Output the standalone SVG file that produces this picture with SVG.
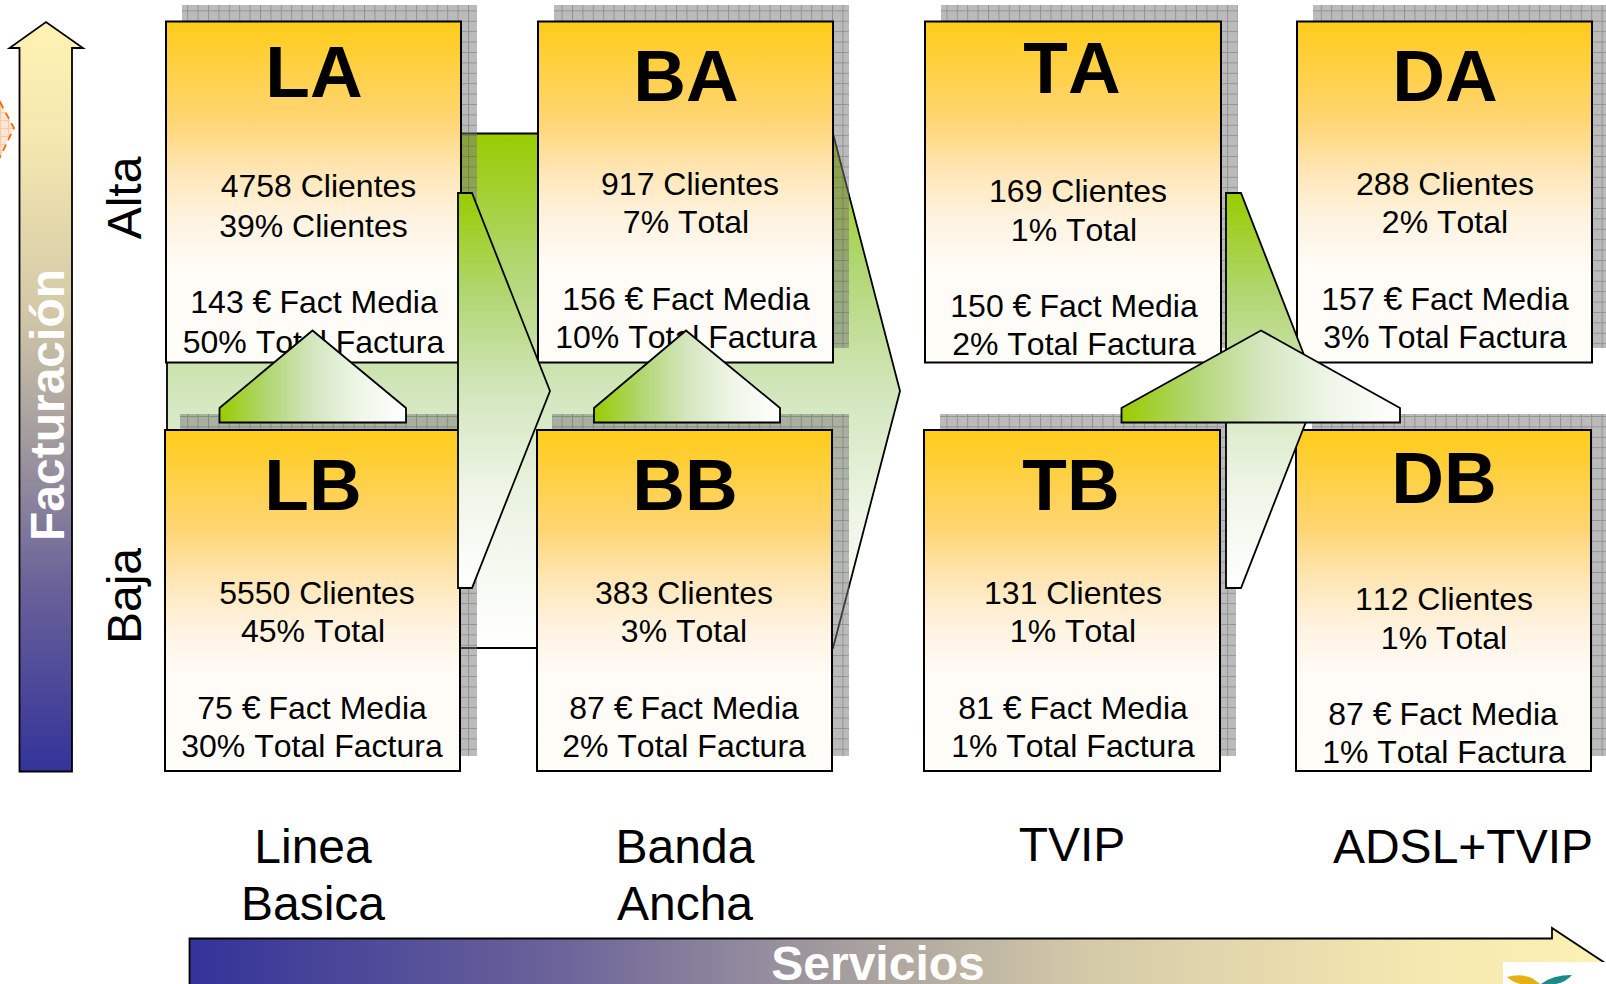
<svg xmlns="http://www.w3.org/2000/svg" width="1606" height="984" viewBox="0 0 1606 984">
<style>
text{font-family:"Liberation Sans",Arial,sans-serif;fill:#000;font-kerning:none}
.t{font-size:32px;text-anchor:middle}
.e{font-size:34px}
.h{font-size:73px;font-weight:bold;text-anchor:middle}
.l{font-size:48px;text-anchor:middle}
.w{font-size:48px;font-weight:bold;text-anchor:middle;fill:#fff}
.box{fill:url(#gBox);stroke:#000;stroke-width:2}
.sh{fill:url(#pSh)}
.av{stroke:#000;stroke-width:1.8;stroke-linejoin:miter;fill:url(#gV)}
.ah{stroke:#000;stroke-width:1.8;fill:url(#gH)}
</style>
<defs>
<linearGradient id="gBox" x1="0" y1="0" x2="0" y2="1"><stop offset="0" stop-color="#ffcc19"/><stop offset="0.29" stop-color="#ffd574"/><stop offset="0.44" stop-color="#ffe6b6"/><stop offset="0.58" stop-color="#fff3e0"/><stop offset="0.72" stop-color="#fffbf6"/><stop offset="1" stop-color="#fffdf8"/></linearGradient>
<linearGradient id="gV" x1="0" y1="0" x2="0" y2="1"><stop offset="0" stop-color="#99cc00"/><stop offset="0.25" stop-color="#b0d670"/><stop offset="0.5" stop-color="#d2e6bc"/><stop offset="0.75" stop-color="#eef5e6"/><stop offset="1" stop-color="#fff"/></linearGradient>
<linearGradient id="gH" x1="0" y1="0" x2="1" y2="0"><stop offset="0" stop-color="#99cc00"/><stop offset="0.25" stop-color="#b0d670"/><stop offset="0.5" stop-color="#d4e6bf"/><stop offset="0.75" stop-color="#eff6e8"/><stop offset="1" stop-color="#fff"/></linearGradient>
<linearGradient id="gUp" x1="0" y1="1" x2="0" y2="0"><stop offset="0" stop-color="#333399"/><stop offset="0.25" stop-color="#6a6299"/><stop offset="0.45" stop-color="#a59d9e"/><stop offset="0.62" stop-color="#d4caa8"/><stop offset="0.85" stop-color="#f5e8b0"/><stop offset="1" stop-color="#fff2b3"/></linearGradient>
<linearGradient id="gRt" x1="0" y1="0" x2="1" y2="0"><stop offset="0" stop-color="#333399"/><stop offset="0.25" stop-color="#6a6299"/><stop offset="0.45" stop-color="#a59d9e"/><stop offset="0.62" stop-color="#d4caa8"/><stop offset="0.85" stop-color="#f5e8b0"/><stop offset="1" stop-color="#fff2b3"/></linearGradient>
<pattern id="pSh" width="10.4" height="10.4" patternUnits="userSpaceOnUse"><rect width="10.4" height="10.4" fill="#787878" fill-opacity="0.5"/><path d="M0 .5H10.4M.5 0V10.4" stroke="#555" stroke-opacity="0.4" stroke-width="1" fill="none"/></pattern>
<pattern id="pOr" width="8" height="8" patternUnits="userSpaceOnUse"><rect width="8" height="8" fill="#ffe6d5"/><path d="M0 .5H8M.5 0V8" stroke="#ffc9a8" stroke-width="1" fill="none"/></pattern>
</defs>
<rect width="1606" height="984" fill="#fff"/>
<g id="marker-orange"><path d="M0 102L14 128L0 157L-14 128Z" fill="url(#pOr)" stroke="#ff6600" stroke-width="1.8" stroke-dasharray="7 5"/></g>
<g id="axis-facturacion"><path d="M19.500 771.500V48H9.500L46 22L83 48H72V771.500Z" fill="url(#gUp)" stroke="#000" stroke-width="1.8"/><text class="w" transform="translate(64 405) rotate(-90)">Facturación</text></g>
<g id="connectors-back"><path id="arrow-base" class="av" d="M167 133.500H833L900 391L833 648H167Z"/></g>
<g id="shadows"><rect class="sh" x="182" y="5" width="295" height="343"/><rect class="sh" x="554" y="5" width="295" height="343"/><rect class="sh" x="941" y="5" width="297" height="343"/><rect class="sh" x="1313" y="5" width="293" height="343"/><rect class="sh" x="180" y="414" width="297" height="342"/><rect class="sh" x="552" y="414" width="297" height="342"/><rect class="sh" x="940" y="414" width="296" height="342"/><rect class="sh" x="1312" y="414" width="294" height="342"/></g>
<g id="node-LA"><rect class="box" x="166" y="21.500" width="295" height="341"/><text class="h" x="314" y="96.500">LA</text><text class="t" x="318.500" y="197">4758 Clientes</text><text class="t" x="313.400" y="237">39% Clientes</text><text class="t" x="314" y="313.400">143 <tspan class="e">€</tspan><tspan dx="-1"> Fact Media</tspan></text><text class="t" x="313.500" y="353">50% Total Factura</text></g>
<g id="node-BA"><rect class="box" x="538" y="21.500" width="295" height="341"/><text class="h" x="686" y="101">BA</text><text class="t" x="690" y="195">917 Clientes</text><text class="t" x="686" y="233">7% Total</text><text class="t" x="686" y="310">156 <tspan class="e">€</tspan><tspan dx="-1"> Fact Media</tspan></text><text class="t" x="686" y="348">10% Total Factura</text></g>
<g id="node-TA"><rect class="box" x="925" y="21.500" width="296" height="341"/><text class="h" x="1072" y="93">TA</text><text class="t" x="1078" y="202">169 Clientes</text><text class="t" x="1074" y="241">1% Total</text><text class="t" x="1074" y="317">150 <tspan class="e">€</tspan><tspan dx="-1"> Fact Media</tspan></text><text class="t" x="1074" y="355">2% Total Factura</text></g>
<g id="node-DA"><rect class="box" x="1297" y="21.500" width="295" height="341"/><text class="h" x="1445" y="101">DA</text><text class="t" x="1445" y="195">288 Clientes</text><text class="t" x="1445" y="233">2% Total</text><text class="t" x="1445" y="310">157 <tspan class="e">€</tspan><tspan dx="-1"> Fact Media</tspan></text><text class="t" x="1445" y="348">3% Total Factura</text></g>
<g id="node-LB"><rect class="box" x="165" y="430" width="295" height="341"/><text class="h" x="313" y="509.500">LB</text><text class="t" x="317" y="604">5550 Clientes</text><text class="t" x="313" y="642">45% Total</text><text class="t" x="312" y="719">75 <tspan class="e">€</tspan><tspan dx="-1"> Fact Media</tspan></text><text class="t" x="312" y="757">30% Total Factura</text></g>
<g id="node-BB"><rect class="box" x="537" y="430" width="295" height="341"/><text class="h" x="685" y="509.500">BB</text><text class="t" x="684" y="604">383 Clientes</text><text class="t" x="684" y="642">3% Total</text><text class="t" x="684" y="719">87 <tspan class="e">€</tspan><tspan dx="-1"> Fact Media</tspan></text><text class="t" x="684" y="757">2% Total Factura</text></g>
<g id="node-TB"><rect class="box" x="924" y="430" width="296" height="341"/><text class="h" x="1071" y="509.500">TB</text><text class="t" x="1073" y="604">131 Clientes</text><text class="t" x="1073" y="642">1% Total</text><text class="t" x="1073" y="719">81 <tspan class="e">€</tspan><tspan dx="-1"> Fact Media</tspan></text><text class="t" x="1073" y="757">1% Total Factura</text></g>
<g id="node-DB"><rect class="box" x="1296" y="430" width="295" height="341"/><text class="h" x="1444" y="502.500">DB</text><text class="t" x="1444" y="610">112 Clientes</text><text class="t" x="1444" y="648.500">1% Total</text><text class="t" x="1443" y="725">87 <tspan class="e">€</tspan><tspan dx="-1"> Fact Media</tspan></text><text class="t" x="1444" y="763">1% Total Factura</text></g>
<g id="connectors-front">
<path class="av" d="M458 193H472L550 391L472 588H458Z"/>
<path class="av" d="M1226 193H1241L1318 391L1241 588H1226Z"/>
<path class="ah" d="M219.500 422.500V408L312.500 330.500L406 408V422.500Z"/>
<path class="ah" d="M594 422.500V408L686 330.500L780 408V422.500Z"/>
<path class="ah" d="M1121.500 422.500V408L1261 330.500L1400 408V422.500Z"/>
</g>
<g id="labels"><text class="l" transform="translate(140.500 198) rotate(-90)">Alta</text><text class="l" transform="translate(140.500 596) rotate(-90)">Baja</text><text class="l" x="313" y="863">Linea</text><text class="l" x="313" y="920">Basica</text><text class="l" x="685" y="863">Banda</text><text class="l" x="685" y="920">Ancha</text><text class="l" x="1072" y="861">TVIP</text><text class="l" x="1463" y="863">ADSL+TVIP</text></g>
<g id="axis-servicios"><path d="M189.500 990V938.500H1552V928L1640 986V990Z" fill="url(#gRt)" stroke="#000" stroke-width="1.8"/><text class="w" x="878" y="980">Servicios</text></g>
<g id="logo"><rect x="1503" y="962" width="103" height="22" fill="#fff"/><path d="M1507 977Q1520 973 1532 978L1540 984H1520Q1512 982 1507 977Z" fill="#e6b012"/><path d="M1541 984Q1552 975 1572 975Q1566 982 1556 984Z" fill="#1a8a8a"/></g>
</svg>
